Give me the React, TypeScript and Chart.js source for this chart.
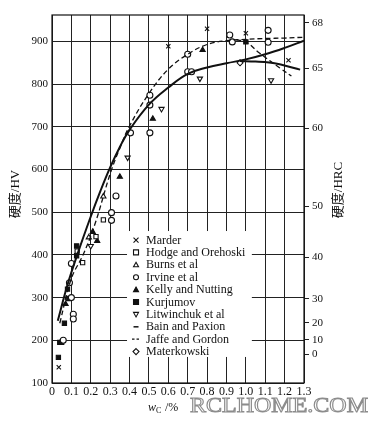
import React, { useEffect, useRef } from 'react';
import { Chart, registerables } from 'chart.js';
Chart.register(...registerables);

const SERIF = "'Liberation Serif', 'Times New Roman', serif";
const CJK = "'Liberation Serif', 'Noto Sans CJK SC', serif";

// axes
const xTicks = [0, 0.1, 0.2, 0.3, 0.4, 0.5, 0.6, 0.7, 0.8, 0.9, 1.0, 1.1, 1.2, 1.3];
const hvTicks = [100, 200, 300, 400, 500, 600, 700, 800, 900];
const hrcLabels = ['0', '10', '20', '30', '40', '50', '60', '65', '68'];
const hrcAtHV = [167, 201, 241, 297, 395, 514, 697, 837, 944];

// scatter series [wC %, HV]
const marder = [[0.035, 137], [0.6, 889], [0.8, 930], [1.0, 919], [1.22, 856]];
const hodge = [[0.13, 409], [0.158, 382], [0.227, 443], [0.265, 482]];
const burns = [[0.19, 441], [0.265, 537]];
const irvine = [[0.058, 200], [0.09, 335], [0.1, 300], [0.11, 261], [0.11, 250], [0.1, 380],
  [0.307, 499], [0.307, 481], [0.33, 538], [0.405, 686], [0.505, 774], [0.505, 751], [0.505, 686],
  [0.7, 870], [0.7, 829], [0.72, 829], [0.917, 915], [0.93, 899], [1.115, 926], [1.115, 898]];
const kelly = [[0.07, 285], [0.21, 454], [0.233, 433], [0.35, 583], [0.52, 719], [0.777, 880]];
const kurjumov = [[0.033, 160], [0.04, 195], [0.05, 195], [0.064, 240], [0.084, 298], [0.08, 320],
  [0.127, 398], [0.127, 421], [1.0, 899]];
const litwinchuk = [[0.2, 421], [0.39, 628], [0.565, 742], [0.763, 813], [1.13, 809]];
const materkowski = [[0.97, 850]];

// curves
const bainMain = [[0.03, 246], [0.08, 330], [0.13, 400], [0.2, 490], [0.25, 550], [0.3, 605],
  [0.35, 653], [0.4, 693], [0.5, 752], [0.6, 792], [0.7, 824], [0.8, 839], [0.9, 849],
  [1.0, 858], [1.1, 870], [1.2, 885], [1.3, 902]];
const bainBranch = [[0.97, 854], [1.05, 853], [1.12, 851], [1.18, 846], [1.28, 834]];
const jaffeMain = [[0.04, 240], [0.1, 345], [0.16, 400], [0.22, 470], [0.3, 590], [0.35, 650],
  [0.4, 702], [0.5, 778], [0.6, 835], [0.7, 870], [0.8, 893], [0.9, 902], [1.0, 905],
  [1.1, 907], [1.2, 908], [1.3, 910]];
const jaffeBranch = [[0.95, 904], [1.0, 899], [1.07, 873], [1.175, 838], [1.235, 819]];

const legendNames = ['Marder', 'Hodge and Orehoski', 'Burns et al', 'Irvine et al', 'Kelly and Nutting',
  'Kurjumov', 'Litwinchuk et al', 'Bain and Paxion', 'Jaffe and Gordon', 'Materkowski'];
const legendMarks = ['x', 'sq', 'tri', 'circ', 'ftri', 'fsq', 'itri', 'solid', 'dash', 'dia'];

const toPts = (a: number[][]) => a.map(([x, y]) => ({ x, y }));

function marker(label: string, data: number[][], style: string, filled: boolean, rot = 0, r = 3) {
  return {
    label, data: toPts(data), showLine: false, pointStyle: style, pointRadius: r, pointRotation: rot,
    pointBackgroundColor: filled ? '#111' : '#fff', pointBorderColor: '#111', pointBorderWidth: 1.1,
    backgroundColor: filled ? '#111' : '#fff', borderColor: '#111',
  };
}
function curve(label: string, data: number[][], dashed: boolean) {
  return {
    label, data: toPts(data), showLine: true, pointRadius: 0, borderColor: '#111',
    borderWidth: dashed ? 1.3 : 2, borderDash: dashed ? [5, 3] : [], tension: 0.4, fill: false,
  };
}

function drawMark(ctx: CanvasRenderingContext2D, kind: string, x: number, y: number) {
  const s = 2.5;
  ctx.save();
  ctx.strokeStyle = '#111';
  ctx.fillStyle = '#111';
  ctx.lineWidth = 1.1;
  ctx.beginPath();
  switch (kind) {
    case 'x':
      ctx.moveTo(x - s, y - s); ctx.lineTo(x + s, y + s); ctx.moveTo(x + s, y - s); ctx.lineTo(x - s, y + s);
      ctx.stroke(); break;
    case 'sq': ctx.rect(x - s, y - s, 2 * s, 2 * s); ctx.stroke(); break;
    case 'fsq': ctx.rect(x - s, y - s, 2 * s, 2 * s); ctx.fill(); ctx.stroke(); break;
    case 'tri': ctx.moveTo(x, y - s); ctx.lineTo(x + s, y + s * 0.8); ctx.lineTo(x - s, y + s * 0.8); ctx.closePath(); ctx.stroke(); break;
    case 'ftri': ctx.moveTo(x, y - s); ctx.lineTo(x + s, y + s * 0.8); ctx.lineTo(x - s, y + s * 0.8); ctx.closePath(); ctx.fill(); ctx.stroke(); break;
    case 'itri': ctx.moveTo(x, y + s); ctx.lineTo(x + s, y - s * 0.8); ctx.lineTo(x - s, y - s * 0.8); ctx.closePath(); ctx.stroke(); break;
    case 'circ': ctx.arc(x, y, s, 0, Math.PI * 2); ctx.stroke(); break;
    case 'dia': ctx.moveTo(x, y - s - 0.5); ctx.lineTo(x + s + 0.5, y); ctx.lineTo(x, y + s + 0.5); ctx.lineTo(x - s - 0.5, y); ctx.closePath(); ctx.stroke(); break;
    case 'solid': ctx.lineWidth = 1.5; ctx.moveTo(x - 2.5, y); ctx.lineTo(x + 2.5, y); ctx.stroke(); break;
    case 'dash': ctx.lineWidth = 1.2; ctx.moveTo(x - 4, y); ctx.lineTo(x - 1.5, y); ctx.moveTo(x + 0.5, y); ctx.lineTo(x + 3, y); ctx.stroke(); break;
  }
  ctx.restore();
}

const decor = {
  id: 'decor',
  beforeDatasetsDraw(chart: any) {
    const ctx: CanvasRenderingContext2D = chart.ctx;
    const xs = chart.scales.x, ys = chart.scales.y;
    const l = xs.getPixelForValue(0.387), r = xs.getPixelForValue(1.031);
    const t = ys.getPixelForValue(456), b = ys.getPixelForValue(161);
    ctx.save();
    ctx.fillStyle = '#fff';
    ctx.fillRect(l, t, r - l, b - t);
    ctx.fillStyle = '#111';
    ctx.font = `12px ${SERIF}`;
    ctx.textBaseline = 'middle';
    ctx.textAlign = 'left';
    legendNames.forEach((n, i) => {
      const y = t + 9 + i * 12.4;
      drawMark(ctx, legendMarks[i], l + 9, y);
      ctx.fillText(n, l + 19, y + 0.5);
    });
    ctx.restore();
  },
  afterDraw(chart: any) {
    const ctx: CanvasRenderingContext2D = chart.ctx;
    const a = chart.chartArea;
    ctx.save();
    ctx.strokeStyle = '#111';
    ctx.lineWidth = 1.2;
    ctx.strokeRect(a.left, a.top, a.right - a.left, a.bottom - a.top);
    ctx.fillStyle = '#111';
    ctx.font = `13px ${CJK}`;
    ctx.textAlign = 'center';
    ctx.textBaseline = 'middle';
    ctx.save(); ctx.translate(16, 194); ctx.rotate(-Math.PI / 2); ctx.fillText('硬度/HV', 0, 0); ctx.restore();
    ctx.save(); ctx.translate(339, 190); ctx.rotate(-Math.PI / 2); ctx.fillText('硬度/HRC', 0, 0); ctx.restore();
    // x title
    ctx.textAlign = 'left';
    ctx.textBaseline = 'alphabetic';
    ctx.font = `italic 12px ${SERIF}`;
    ctx.fillText('w', 148, 411);
    ctx.font = `8px ${SERIF}`;
    ctx.fillText('C', 156, 413);
    ctx.font = `12px ${SERIF}`;
    ctx.fillText('/%', 165, 411);
    // watermark
    ctx.font = `20px ${SERIF}`;
    const txt = 'RCLHOME.COM';
    const w = ctx.measureText(txt).width;
    ctx.translate(190, 412);
    ctx.scale(178 / w, 1);
    ctx.strokeStyle = '#8c8c8c';
    ctx.lineWidth = 1;
    ctx.strokeText(txt, 0, 0);
    ctx.restore();
  },
};

export default function App() {
  const ref = useRef<HTMLCanvasElement>(null);
  useEffect(() => {
    document.body.style.margin = '0';
    const chart = new Chart(ref.current as HTMLCanvasElement, {
      type: 'scatter',
      data: {
        datasets: [
          curve('Bain and Paxion', bainMain, false),
          curve('Bain and Paxion b', bainBranch, false),
          curve('Jaffe and Gordon', jaffeMain, true),
          curve('Jaffe and Gordon b', jaffeBranch, true),
          marker('Marder', marder, 'crossRot', false, 0, 3),
          marker('Hodge and Orehoski', hodge, 'rect', false),
          marker('Burns et al', burns, 'triangle', false),
          marker('Irvine et al', irvine, 'circle', false),
          marker('Kelly and Nutting', kelly, 'triangle', true),
          marker('Kurjumov', kurjumov, 'rect', true),
          marker('Litwinchuk et al', litwinchuk, 'triangle', false, 180),
          marker('Materkowski', materkowski, 'rectRot', false),
        ] as any,
      },
      options: {
        animation: false,
        responsive: false,
        devicePixelRatio: 1,
        layout: { padding: { top: 15, left: 0, right: 0, bottom: 0 } },
        plugins: { legend: { display: false }, tooltip: { enabled: false } },
        scales: {
          x: {
            type: 'linear', min: 0, max: 1.3,
            afterBuildTicks: (s: any) => { s.ticks = xTicks.map((v) => ({ value: v })); },
            afterFit: (s: any) => { s.height = 47; },
            ticks: {
              autoSkip: false, maxRotation: 0, padding: 2, color: '#111',
              font: { family: SERIF, size: 12 },
              callback: (v: any) => (Number(v) === 0 ? '0' : Number(v).toFixed(1)),
            },
            grid: { color: '#222', lineWidth: 1, drawTicks: false },
            border: { display: false },
          },
          y: {
            type: 'linear', position: 'left', min: 100, max: 962,
            afterBuildTicks: (s: any) => { s.ticks = hvTicks.map((v) => ({ value: v })); },
            afterFit: (s: any) => { s.width = 52; },
            ticks: { padding: 4, color: '#111', font: { family: SERIF, size: 11 } },
            grid: { color: '#222', lineWidth: 1, drawTicks: false },
            border: { display: false },
          },
          y2: {
            type: 'linear', position: 'right', min: 100, max: 962,
            afterBuildTicks: (s: any) => { s.ticks = hrcAtHV.map((v) => ({ value: v })); },
            afterFit: (s: any) => { s.width = 70; },
            ticks: {
              padding: 3, color: '#111', font: { family: SERIF, size: 11 },
              callback: (v: any) => hrcLabels[hrcAtHV.indexOf(Number(v))],
            },
            grid: { drawOnChartArea: false, drawTicks: true, tickLength: 5, color: '#222' },
            border: { display: false },
          },
        },
      } as any,
      plugins: [decor],
    });
    return () => chart.destroy();
  }, []);
  return (
    <div style={{ width: 374, height: 430 }}>
      <canvas ref={ref} width={374} height={430} />
    </div>
  );
}
